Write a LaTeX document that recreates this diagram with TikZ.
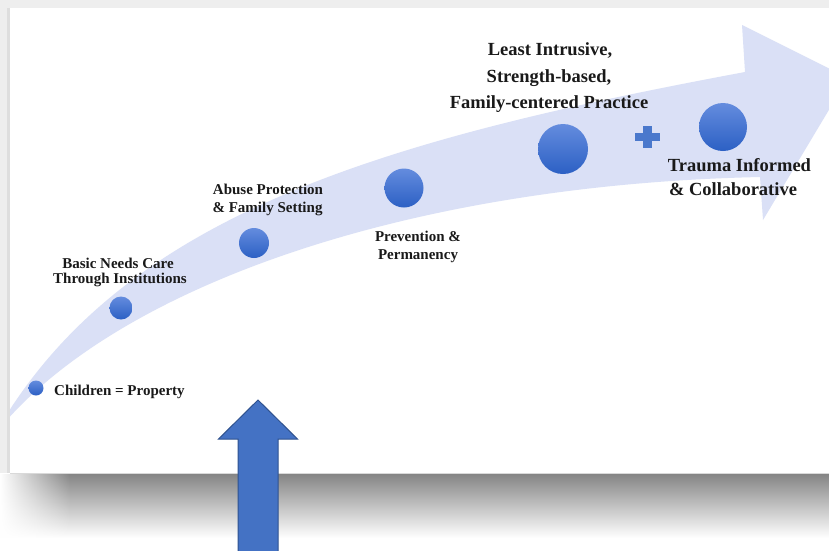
\documentclass[tikz,border=0pt]{standalone}
\usepackage{fontspec}
\setmainfont{Liberation Serif}
\usetikzlibrary{fadings}
\definecolor{bandc}{RGB}{218,224,246}
\definecolor{dottop}{RGB}{100,140,222}
\definecolor{dotbot}{RGB}{44,96,196}
\definecolor{arrowfill}{RGB}{68,114,196}
\definecolor{arrowline}{RGB}{47,82,143}
\definecolor{plusc}{RGB}{74,120,204}
\definecolor{shadowc}{RGB}{133,133,133}
\definecolor{pagebg}{RGB}{238,238,238}
\definecolor{edgec}{RGB}{222,222,222}
\definecolor{txt}{RGB}{25,25,25}
\tikzfading[name=fadeleft, left color=transparent!100, right color=transparent!0]
\tikzset{
  dotnode/.style={circle, inner sep=0pt, draw=none, top color=dottop, bottom color=dotbot},
  lab/.style={font=\bfseries\fontsize{15}{18}\selectfont, text=txt, inner sep=0pt, anchor=base},
  biglab/.style={font=\bfseries\fontsize{18.5}{22}\selectfont, text=txt, inner sep=0pt, anchor=base},
}
\begin{document}
\begin{tikzpicture}[x=1pt,y=-1pt]
\useasboundingbox (0,0) rectangle (829,550);
% page background
\fill[pagebg] (0,0) rectangle (829,473);
\fill[white] (0,473) rectangle (829,550);
% slide
\fill[edgec] (7,8) rectangle (10,473);
\fill[white] (10,8) rectangle (829,473);
% shadow under slide
\shade[top color=shadowc, bottom color=white] (70,474) rectangle (829,538);
\shade[top color=shadowc, bottom color=white, path fading=fadeleft] (0,474) rectangle (70,538);
\draw[gray!30, line width=0.8pt] (10,473) -- (829,473);
% curved band arrow
\begin{scope}
\clip (10,8) rectangle (829,473);
\fill[bandc] (-5,434) .. controls (120,215) and (380,140) .. (745,72)
  -- (742,25) -- (848,78) -- (763,220) -- (760,177)
  .. controls (400,185) and (110,290) .. (-5,434) -- cycle;
\end{scope}
% dots
\node[dotnode, minimum size=15pt] (d1) at (36,388) {};
\node[dotnode, minimum size=23pt] (d2) at (121,308) {};
\node[dotnode, minimum size=30pt] (d3) at (254,243) {};
\node[dotnode, minimum size=39pt] (d4) at (404,188) {};
\node[dotnode, minimum size=50pt] (d5) at (563,149) {};
\node[dotnode, minimum size=48pt] (d6) at (723,127) {};
% plus
\fill[plusc] (635,133) rectangle (660,141);
\fill[plusc] (643,126) rectangle (652,148);
% labels
\node[lab, anchor=base west] (t1) at (54,395) {Children = Property};
\node[lab] (t2a) at (118,268) {Basic Needs Care};
\node[lab] (t2b) at (120,283) {Through Institutions};
\node[lab] (t3a) at (268,194) {Abuse Protection};
\node[lab] (t3b) at (267.5,212) {\& Family Setting};
\node[lab] (t4a) at (418,241) {Prevention \&};
\node[lab] (t4b) at (418,259) {Permanency};
\node[biglab] (t5a) at (550,55) {Least Intrusive,};
\node[biglab] (t5b) at (549,82) {Strength-based,};
\node[biglab] (t5c) at (549,108.5) {Family-centered Practice};
\node[biglab] (t6a) at (739.5,171.5) {Trauma Informed};
\node[biglab] (t6b) at (733,195) {\& Collaborative};
% big up arrow
\filldraw[fill=arrowfill, draw=arrowline, line width=1pt, line join=miter]
  (258,400) -- (297.5,439) -- (278,439) -- (278,553) -- (238,553) -- (238,439) -- (218.5,439) -- cycle;
\end{tikzpicture}
\end{document}
